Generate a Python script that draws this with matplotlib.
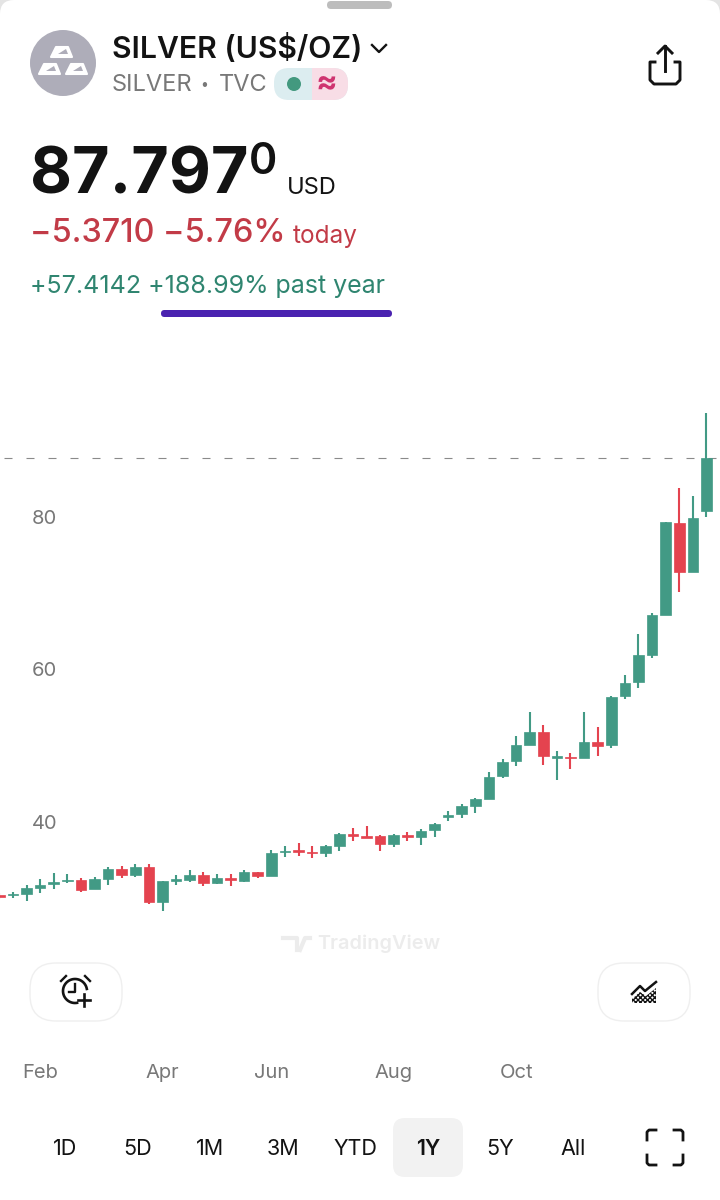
import matplotlib
matplotlib.use("Agg")
import matplotlib.pyplot as plt
from matplotlib.patches import Circle, Ellipse, FancyBboxPatch, Polygon, Rectangle
import numpy as np

plt.rcParams["font.family"] = ["Inter", "DejaVu Sans"]

# daily-ish candles, oldest first
opens = [30.39, 30.39, 30.56, 31.30, 31.83, 32.22, 32.39, 31.17, 32.52, 33.80, 33.01, 34.06, 29.55,
         32.30, 32.43, 33.05, 31.96, 32.66, 32.26, 33.44, 32.92, 36.03, 36.29, 36.07, 35.97, 36.89,
         38.43, 38.16, 38.16, 37.08, 38.33, 38.03, 38.91, 40.70, 41.05, 42.14, 43.06, 46.03, 47.96,
         50.14, 51.84, 48.43, 48.56, 48.39, 50.49, 50.10, 56.52, 58.32, 61.90, 67.19, 79.21, 72.75, 80.79]
highs = [30.69, 30.86, 31.70, 32.56, 33.35, 33.14, 32.70, 32.75, 34.06, 34.19, 34.49, 34.45, 32.22,
         33.05, 33.67, 33.40, 33.22, 33.22, 33.67, 33.44, 36.29, 36.85, 37.29, 36.81, 37.02, 38.52,
         39.17, 39.51, 38.30, 38.43, 38.73, 39.04, 39.91, 41.44, 42.40, 43.15, 46.60, 48.30, 51.24,
         54.43, 52.76, 49.35, 49.05, 54.39, 52.46, 56.49, 59.28, 64.62, 67.45, 79.31, 83.76, 82.72, 93.68]
lows = [29.90, 30.07, 29.68, 30.65, 31.21, 31.96, 30.82, 31.17, 31.78, 32.70, 32.83, 29.21, 28.33,
        31.70, 32.09, 31.61, 31.91, 31.61, 32.13, 32.66, 32.92, 35.41, 35.50, 35.24, 35.41, 36.16,
        37.51, 37.94, 36.24, 36.68, 37.51, 36.98, 38.07, 40.09, 40.52, 41.14, 43.06, 45.77, 47.38,
        50.14, 47.51, 45.51, 46.91, 48.39, 48.66, 49.74, 56.17, 57.61, 61.55, 67.19, 70.16, 72.75, 80.00]
closes = [30.20, 30.56, 31.30, 31.74, 32.09, 32.39, 31.08, 32.49, 33.80, 33.01, 34.10, 29.51, 32.22,
          32.49, 33.05, 31.96, 32.66, 32.39, 33.44, 32.92, 35.97, 36.24, 36.07, 35.90, 36.81, 38.39,
          38.20, 37.94, 37.08, 38.30, 38.03, 38.86, 39.70, 40.96, 42.10, 43.02, 45.94, 47.91, 50.06,
          51.84, 48.62, 48.66, 48.39, 50.49, 50.01, 56.39, 58.23, 61.86, 67.15, 79.31, 72.83, 79.87, 87.78]

last_price = 87.797
y_ticks = [80, 60, 40]
month_labels = ["Feb", "Apr", "Jun", "Aug", "Oct"]
month_pos = [3, 12, 20, 29, 38]
ranges = ["1D", "5D", "1M", "3M", "YTD", "1Y", "5Y", "All"]

GREEN = "#429a85"
RED = "#e4434f"
INK = "#131313"
GRAY = "#787878"

fig = plt.figure(figsize=(7.2, 12), dpi=100, facecolor="#e4e4e4")

# white sheet + pixel overlay for the app chrome
ui = fig.add_axes([0, 0, 1, 1], zorder=1)
ui.set_xlim(0, 720)
ui.set_ylim(1200, 0)
ui.axis("off")
ui.add_patch(FancyBboxPatch((0, 0), 720, 1260, boxstyle="round,pad=0,rounding_size=14", fc="white", ec="none"))

# chart axes, 400..1060 px tall
ax = fig.add_axes([0, 140 / 1200, 1, 660 / 1200], zorder=2)
ax.patch.set_alpha(0)
ax.set_xlim(0.7 / 13.6, 720.7 / 13.6)
ax.set_ylim(40 - (1060 - 822) / 7.625, 40 + (822 - 400) / 7.625)
for s in ax.spines.values():
    s.set_visible(False)

x = np.arange(len(opens))
o, h, l, c = map(np.array, (opens, highs, lows, closes))
cols = [GREEN if up else RED for up in c >= o]
ax.vlines(x, l, h, colors=cols, lw=1.5)
ax.bar(x, np.abs(c - o), bottom=np.minimum(o, c), width=0.78, color=cols, edgecolor=cols, lw=0.5)
ax.axhline(last_price, color="#8a8a8a", lw=0.8, ls=(16.2, (7.2, 12.6)), zorder=0)

ax.set_yticks(y_ticks, [str(v) for v in y_ticks], ha="left")
ax.set_xticks(month_pos, month_labels)
ax.tick_params(axis="y", length=0, pad=-23, labelsize=14.5, labelcolor=GRAY)
ax.tick_params(axis="x", length=0, pad=3, labelsize=14.5, labelcolor=GRAY)

def txt(px, py, s, size, color=INK, weight="normal", ha="left", va="center", **kw):
    return ui.text(px, py, s, fontsize=size, color=color, fontweight=weight, ha=ha, va=va, **kw)

# grab handle
ui.add_patch(FancyBboxPatch((327, 1), 65, 8, boxstyle="round,pad=0,rounding_size=4", fc="#bdbdbd", ec="none"))

# logo
ui.add_patch(Ellipse((63, 63), 66, 66, fc="#aeadb9", ec="none"))
for x0, y0 in [(51, 46), (39, 63), (66, 63)]:
    ui.add_patch(Polygon([(x0, y0 + 11), (x0 + 5, y0 + 1), (x0 + 17, y0 + 1), (x0 + 21, y0 + 11)],
                         closed=True, fc="white", ec="white", lw=1.5, joinstyle="round"))
    ui.add_patch(Polygon([(x0 + 7, y0 + 8), (x0 + 15, y0 + 3), (x0 + 17, y0 + 8)], closed=True, fc="#aeadb9", ec="none"))

txt(112, 49, "SILVER (US$/OZ)", 21.7, weight="semibold")
ui.plot([372, 379, 386], [45, 52, 45], color=INK, lw=1.7)
txt(112, 85, "SILVER", 17, color=GRAY)
txt(204, 85, "•", 10, color=GRAY, ha="center")
txt(219, 85, "TVC", 17, color=GRAY)

# market status pill
ui.add_patch(FancyBboxPatch((274, 68), 74, 32, boxstyle="round,pad=0,rounding_size=15", fc="#dcedf0", ec="none"))
pink = FancyBboxPatch((274, 68), 74, 32, boxstyle="round,pad=0,rounding_size=15", fc="#f8dde6", ec="none")
ui.add_patch(pink)
pink.set_clip_path(Rectangle((312, 60), 40, 50, transform=ui.transData))
ui.add_patch(Circle((294, 84), 7, fc="#43997f", ec="none"))
txt(326, 84, "≈", 23, color="#cf3470", ha="center", weight="bold")

# share icon
ui.plot([655, 650, 650, 654, 676, 680, 680, 675], [62, 62, 80, 84, 84, 80, 62, 62], color=INK, lw=2.1, solid_joinstyle="round")
ui.plot([665, 665], [46, 71], color=INK, lw=2.1)
ui.plot([658, 665, 672], [53, 46, 53], color=INK, lw=2.1)

# quote
txt(30, 176, "87.797", 46.5, weight="bold")
txt(249, 163, "0", 31, weight="semibold")
txt(287, 188, "USD", 17)
txt(30, 234, "−5.3710 −5.76%", 23.3, color="#c23b47", weight="medium")
txt(293, 236, "today", 17.5, color="#c23b47")
txt(30, 287, "+57.4142 +188.99% past year", 18, color="#2f8570")
ui.add_patch(FancyBboxPatch((161, 310), 231, 7, boxstyle="round,pad=0,rounding_size=3.5", fc="#4a22b0", ec="none"))

# watermark
txt(317, 944, "TradingView", 14.3, color="#ececec", weight="semibold")
ui.plot([283, 297, 297], [938, 938, 950], color="#ececec", lw=3)
ui.plot([300, 305, 310], [950, 938, 938], color="#ececec", lw=3)

# floating buttons
for bx in (30, 598):
    ui.add_patch(FancyBboxPatch((bx, 963), 92, 58, boxstyle="round,pad=0,rounding_size=26", fc="white", ec="#efefef", lw=1))

# alarm icon
t = np.radians(np.arange(80, 351, 5))
ui.plot(75 + 12 * np.cos(t), 991 + 12 * np.sin(t), color=INK, lw=1.9)
ui.plot([75, 75, 69], [984, 992, 992], color=INK, lw=1.7)
ui.plot([61, 66], [981, 976], color=INK, lw=1.7)
ui.plot([85, 90], [976, 981], color=INK, lw=1.7)
ui.plot([84, 84], [994, 1006], color=INK, lw=1.9)
ui.plot([78, 90], [1000, 1000], color=INK, lw=1.9)

# indicators icon
ui.plot([632, 640, 645, 656], [994, 986, 991, 982], color=INK, lw=1.8)
ui.add_patch(Polygon([(632, 1003), (632, 999), (640, 992), (646, 996), (656, 988), (656, 1003)], closed=True,
                     fc="white", ec=INK, lw=0, hatch="xxxxxxx"))

# time range row
ui.add_patch(FancyBboxPatch((393, 1118), 70, 59, boxstyle="round,pad=0,rounding_size=12", fc="#f2f2f2", ec="none"))
for rx, label in zip(np.linspace(65, 573, len(ranges)), ranges):
    txt(rx, 1149, label, 15.5, ha="center", weight="semibold" if label == "1Y" else "normal")

# fullscreen icon
for cx, cy, sx, sy in [(647, 1130, 1, 1), (683, 1130, -1, 1), (647, 1165, 1, -1), (683, 1165, -1, -1)]:
    ui.plot([cx, cx, cx + 2 * sx, cx + 9 * sx], [cy + 10 * sy, cy + 2 * sy, cy, cy], color=INK, lw=2, solid_joinstyle="round")

fig.savefig("out.png", dpi=100, facecolor=fig.get_facecolor())
